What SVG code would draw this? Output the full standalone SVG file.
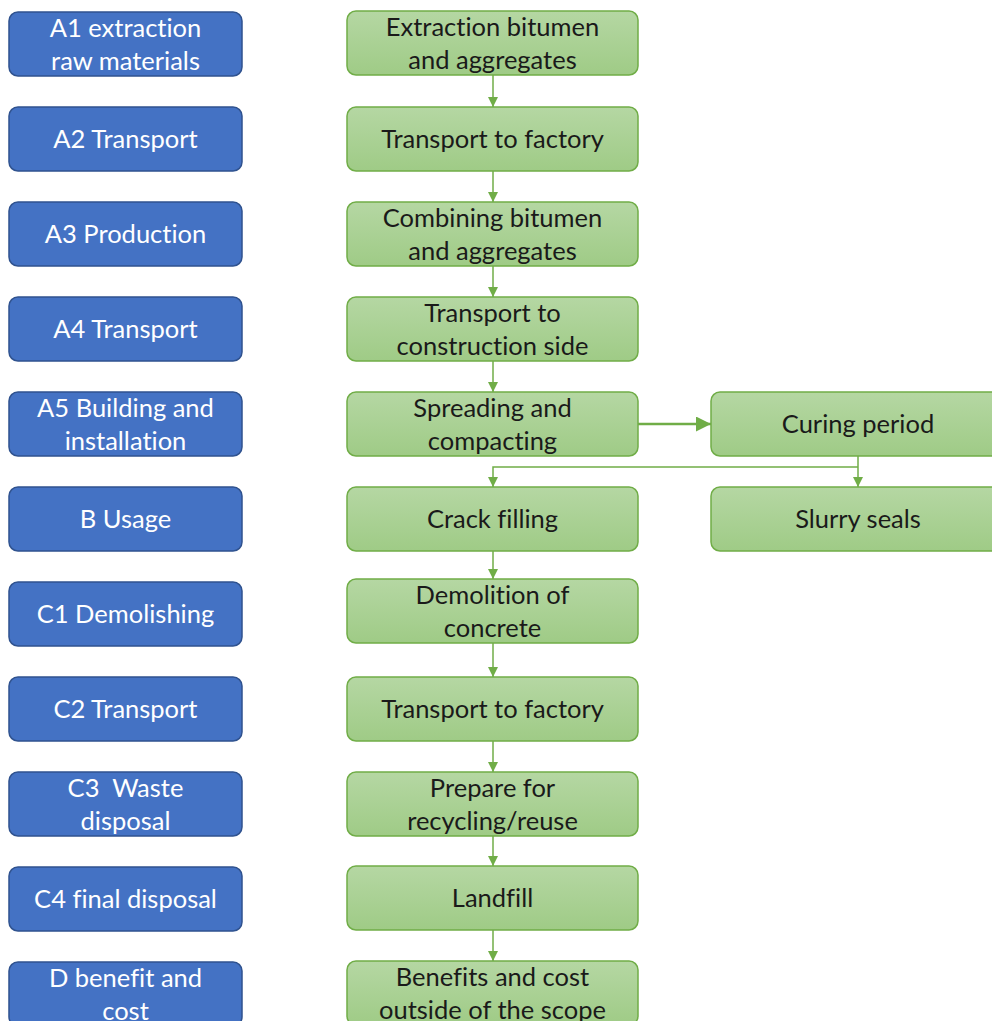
<svg xmlns="http://www.w3.org/2000/svg" width="992" height="1021" viewBox="0 0 992 1021">
<defs>
<linearGradient id="g" x1="0" y1="0" x2="0" y2="1">
<stop offset="0" stop-color="#b5d7a3"/>
<stop offset="1" stop-color="#9fcb86"/>
</linearGradient>
<marker id="ah" viewBox="0 0 10 10" refX="10" refY="5" markerWidth="10" markerHeight="10" markerUnits="userSpaceOnUse" orient="auto">
<path d="M0,0 L10,5 L0,10 z" fill="#70ad47"/>
</marker>
<marker id="ah2" viewBox="0 0 10 10" refX="10" refY="5" markerWidth="6" markerHeight="6" orient="auto">
<path d="M0,0 L10,5 L0,10 z" fill="#70ad47"/>
</marker>
</defs>
<style>
.b{fill:#4472c4;stroke:#2f528f;stroke-width:1.5}
.gr{fill:url(#g);stroke:#70ad47;stroke-width:1.5}
.tb{font-family:Lato,"Open Sans",sans-serif;font-size:25.5px;fill:#ffffff;text-anchor:middle;font-variant-ligatures:none}
.tg{font-family:Lato,"Open Sans",sans-serif;font-size:25.5px;fill:#1a1a1a;text-anchor:middle;font-variant-ligatures:none}
.c{stroke:#70ad47;stroke-width:1.5;fill:none}
</style>
<rect width="992" height="1021" fill="#ffffff"/>
<g id="stages">
<g id="A1"><rect class="b" x="9" y="12" width="233" height="64" rx="9"/><text class="tb" x="125.5" y="37">A1 extraction</text><text class="tb" x="125.5" y="70">raw materials</text></g>
<g id="A2"><rect class="b" x="9" y="107" width="233" height="64" rx="9"/><text class="tb" x="125.5" y="148">A2 Transport</text></g>
<g id="A3"><rect class="b" x="9" y="202" width="233" height="64" rx="9"/><text class="tb" x="125.5" y="243">A3 Production</text></g>
<g id="A4"><rect class="b" x="9" y="297" width="233" height="64" rx="9"/><text class="tb" x="125.5" y="338">A4 Transport</text></g>
<g id="A5"><rect class="b" x="9" y="392" width="233" height="64" rx="9"/><text class="tb" x="125.5" y="417">A5 Building and</text><text class="tb" x="125.5" y="450">installation</text></g>
<g id="B"><rect class="b" x="9" y="487" width="233" height="64" rx="9"/><text class="tb" x="125.5" y="528">B Usage</text></g>
<g id="C1"><rect class="b" x="9" y="582" width="233" height="64" rx="9"/><text class="tb" x="125.5" y="623">C1 Demolishing</text></g>
<g id="C2"><rect class="b" x="9" y="677" width="233" height="64" rx="9"/><text class="tb" x="125.5" y="718">C2 Transport</text></g>
<g id="C3"><rect class="b" x="9" y="772" width="233" height="64" rx="9"/><text class="tb" x="125.5" y="797" xml:space="preserve">C3  Waste</text><text class="tb" x="125.5" y="830">disposal</text></g>
<g id="C4"><rect class="b" x="9" y="867" width="233" height="64" rx="9"/><text class="tb" x="125.5" y="908">C4 final disposal</text></g>
<g id="D"><rect class="b" x="9" y="962" width="233" height="64" rx="9"/><text class="tb" x="125.5" y="987">D benefit and</text><text class="tb" x="125.5" y="1020">cost</text></g>
</g>
<g id="processes">
<g id="p1"><rect class="gr" x="347" y="11" width="291" height="64" rx="9"/><text class="tg" x="492.5" y="36">Extraction bitumen</text><text class="tg" x="492.5" y="69">and aggregates</text></g>
<g id="p2"><rect class="gr" x="347" y="107" width="291" height="64" rx="9"/><text class="tg" x="492.5" y="148">Transport to factory</text></g>
<g id="p3"><rect class="gr" x="347" y="202" width="291" height="64" rx="9"/><text class="tg" x="492.5" y="227">Combining bitumen</text><text class="tg" x="492.5" y="260">and aggregates</text></g>
<g id="p4"><rect class="gr" x="347" y="297" width="291" height="64" rx="9"/><text class="tg" x="492.5" y="322">Transport to</text><text class="tg" x="492.5" y="355">construction side</text></g>
<g id="p5"><rect class="gr" x="347" y="392" width="291" height="64" rx="9"/><text class="tg" x="492.5" y="417">Spreading and</text><text class="tg" x="492.5" y="450">compacting</text></g>
<g id="curing"><rect class="gr" x="711" y="392" width="295" height="64" rx="9"/><text class="tg" x="858" y="433">Curing period</text></g>
<g id="p6"><rect class="gr" x="347" y="487" width="291" height="64" rx="9"/><text class="tg" x="492.5" y="528">Crack filling</text></g>
<g id="slurry"><rect class="gr" x="711" y="487" width="295" height="64" rx="9"/><text class="tg" x="858" y="528">Slurry seals</text></g>
<g id="p7"><rect class="gr" x="347" y="579" width="291" height="64" rx="9"/><text class="tg" x="492.5" y="604">Demolition of</text><text class="tg" x="492.5" y="637">concrete</text></g>
<g id="p8"><rect class="gr" x="347" y="677" width="291" height="64" rx="9"/><text class="tg" x="492.5" y="718">Transport to factory</text></g>
<g id="p9"><rect class="gr" x="347" y="772" width="291" height="64" rx="9"/><text class="tg" x="492.5" y="797">Prepare for</text><text class="tg" x="492.5" y="830">recycling/reuse</text></g>
<g id="p10"><rect class="gr" x="347" y="866" width="291" height="64" rx="9"/><text class="tg" x="492.5" y="907">Landfill</text></g>
<g id="p11"><rect class="gr" x="347" y="961" width="291" height="64" rx="9"/><text class="tg" x="492.5" y="986">Benefits and cost</text><text class="tg" x="492.5" y="1019">outside of the scope</text></g>
</g>
<g id="connectors">
<line class="c" x1="493" y1="75" x2="493" y2="107" marker-end="url(#ah)"/>
<line class="c" x1="493" y1="171" x2="493" y2="202" marker-end="url(#ah)"/>
<line class="c" x1="493" y1="266" x2="493" y2="297" marker-end="url(#ah)"/>
<line class="c" x1="493" y1="361" x2="493" y2="392" marker-end="url(#ah)"/>
<line class="c" x1="638" y1="424" x2="711" y2="424" style="stroke-width:2.5" marker-end="url(#ah2)"/>
<line class="c" x1="858" y1="456" x2="858" y2="487" marker-end="url(#ah)"/>
<polyline class="c" points="858,467 493,467 493,487" marker-end="url(#ah)"/>
<line class="c" x1="493" y1="551" x2="493" y2="579" marker-end="url(#ah)"/>
<line class="c" x1="493" y1="643" x2="493" y2="677" marker-end="url(#ah)"/>
<line class="c" x1="493" y1="741" x2="493" y2="772" marker-end="url(#ah)"/>
<line class="c" x1="493" y1="836" x2="493" y2="866" marker-end="url(#ah)"/>
<line class="c" x1="493" y1="930" x2="493" y2="961" marker-end="url(#ah)"/>
</g>
</svg>
